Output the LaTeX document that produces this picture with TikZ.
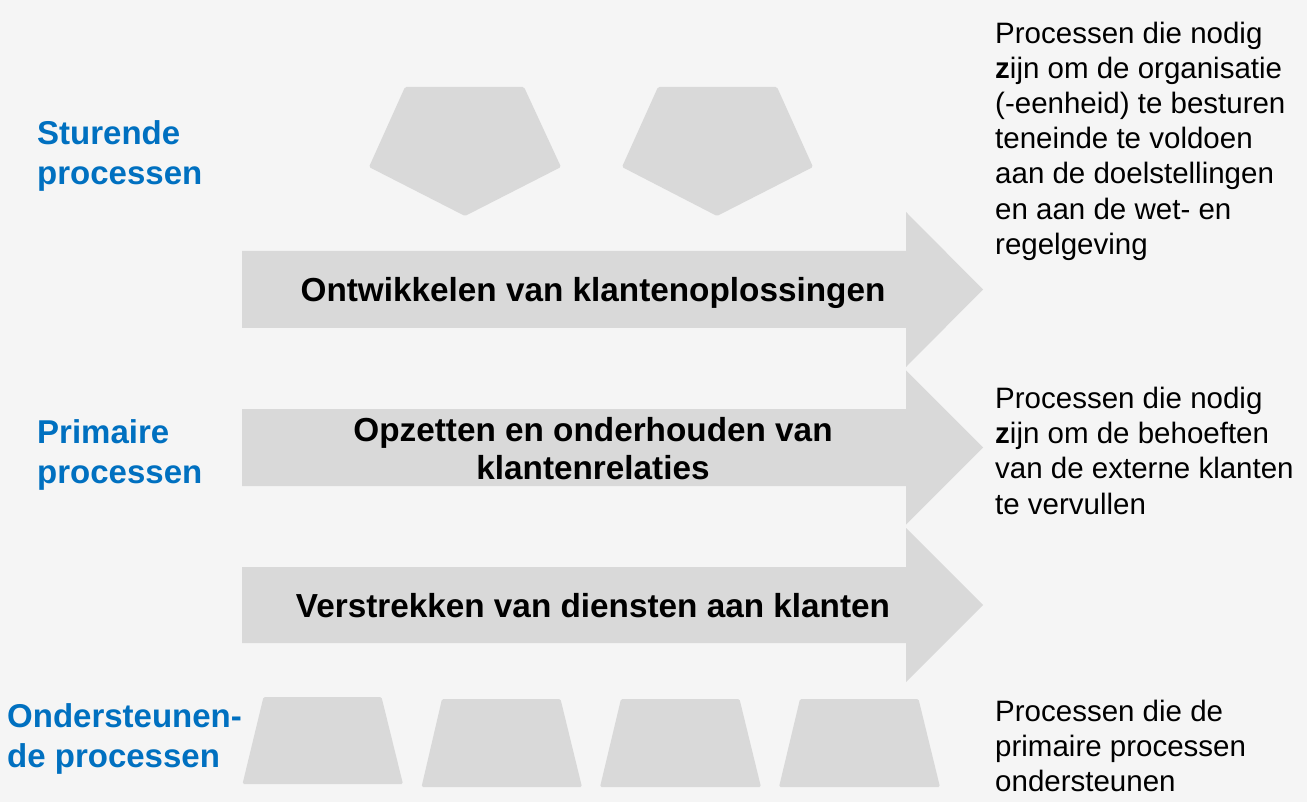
\documentclass[tikz,border=0pt]{standalone}
\usepackage{fontspec}
\setmainfont{Liberation Sans}
\definecolor{bggray}{HTML}{F5F5F5}
\definecolor{shapegray}{HTML}{D9D9D9}
\definecolor{procblue}{HTML}{0070C0}
\begin{document}
\begin{tikzpicture}[x=1pt,y=-1pt,
  shapefill/.style={fill=shapegray,rounded corners=1.5pt},
  arrowfill/.style={fill=shapegray},
  catlabel/.style={anchor=north west,inner sep=0pt,align=left,text=procblue,font=\fontsize{33}{40}\selectfont\bfseries},
  desclabel/.style={anchor=north west,inner sep=0pt,align=left,text=black,font=\fontsize{29.5}{35.2}\selectfont},
  arrowlabel/.style={inner sep=0pt,align=center,text=black,font=\fontsize{33.3}{38.5}\selectfont\bfseries}]
\useasboundingbox (0,0) rectangle (1307,802);
\fill[bggray] (0,0) rectangle (1307,802);

% pentagons (sturende processen)
\fill[shapefill] (405,87) -- (524,87) -- (561,167) -- (465,216) -- (369,167) -- cycle;
\fill[shapefill] (658,87) -- (777,87) -- (813,167) -- (717,216) -- (622,167) -- cycle;

% primary process arrows
\fill[arrowfill] (242,251) -- (906,251) -- (906,212) -- (983,289.5) -- (906,367) -- (906,328) -- (242,328) -- cycle;
\fill[arrowfill] (242,409) -- (906,409) -- (906,370.5) -- (983,447.5) -- (906,524.5) -- (906,486) -- (242,486) -- cycle;
\fill[arrowfill] (242,567) -- (906,567) -- (906,528) -- (983,605) -- (906,682) -- (906,643) -- (242,643) -- cycle;

% trapezoids (ondersteunende processen)
\fill[shapefill] (263.5,697) -- (381.5,697) -- (403,784) -- (242.5,784) -- cycle;
\fill[shapefill] (442,699) -- (560.5,699) -- (582,787) -- (421.5,787) -- cycle;
\fill[shapefill] (621,699) -- (739.5,699) -- (761,787) -- (600,787) -- cycle;
\fill[shapefill] (800,699) -- (918.5,699) -- (940,787) -- (779,787) -- cycle;

% arrow labels
\node[arrowlabel,anchor=base] (a1) at (593,302) {Ontwikkelen van klantenoplossingen};
\node[arrowlabel,anchor=north] (a2) at (593,417) {Opzetten en onderhouden van\\klantenrelaties};
\node[arrowlabel,anchor=base] (a3) at (593,617) {Verstrekken van diensten aan klanten};

% category labels
\node[catlabel] (c1) at (37,120) {Sturende\\processen};
\node[catlabel] (c2) at (37,419.5) {Primaire\\processen};
\node[catlabel] (c3) at (7,703.5) {Ondersteunen-\\de processen};

% descriptions
\node[desclabel] (d1) at (995,21.5) {Processen die nodig\\\textbf{z}ijn om de organisatie\\(-eenheid) te besturen\\teneinde te voldoen\\aan de doelstellingen\\en aan de wet- en\\regelgeving};
\node[desclabel] (d2) at (995,387) {Processen die nodig\\\textbf{z}ijn om de behoeften\\van de externe klanten\\te vervullen};
\node[desclabel] (d3) at (995,700) {Processen die de\\primaire processen\\ondersteunen};
\end{tikzpicture}
\end{document}
